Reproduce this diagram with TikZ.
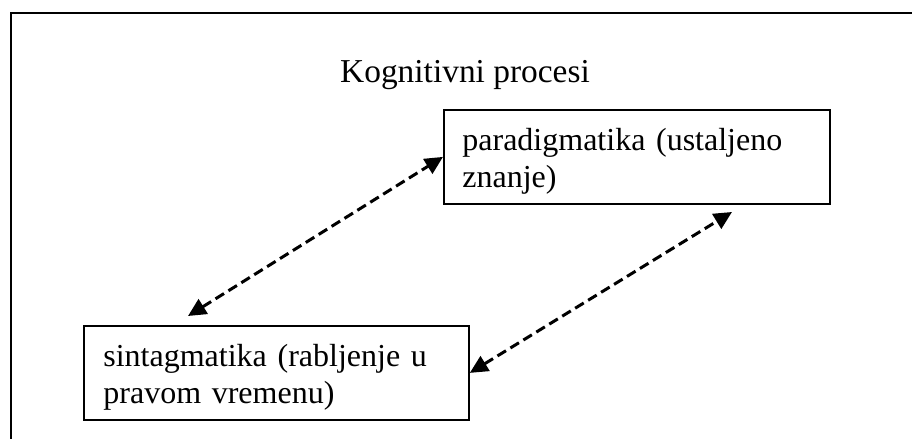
\documentclass[tikz,border=0pt]{standalone}
\usepackage{fontspec}
\setmainfont{Liberation Serif}
\usetikzlibrary{arrows.meta}
\begin{document}
\begin{tikzpicture}[x=0.5pt,y=-0.5pt,
  frame/.style={line width=1pt},
  box/.style={draw, line width=0.9pt, inner sep=0pt},
  boxtext/.style={anchor=base west, inner sep=0pt, text width=185pt, align=left,
    font=\fontsize{16pt}{18.5pt}\selectfont},
  heading/.style={anchor=base, inner sep=0pt, font=\fontsize{16.7pt}{19pt}\selectfont},
  link/.style={dash pattern=on 5pt off 2.6pt, line width=1.5pt,
    {Triangle[length=9pt,width=8.5pt]}-{Triangle[length=9pt,width=8.5pt]}}
]
\useasboundingbox (0,0) rectangle (912,439);
% outer frame, running past the right and bottom edges
\begin{scope}
  \clip (0,0) rectangle (912,439);
  \draw[frame] (10.5,13) rectangle (930,460);
\end{scope}

\node[heading] (title) at (465,83) {Kognitivni procesi};

% the two boxes
\node[box, anchor=north west, minimum width=193pt, minimum height=47pt] (para) at (443,109) {};
\node[boxtext] (paratext) at (462,150) {paradigmatika (ustaljeno\\znanje)};

\node[box, anchor=north west, minimum width=192.5pt, minimum height=47pt] (sint) at (83,325) {};
\node[boxtext] (sinttext) at (103,366) {sintagmatika (rabljenje u\\pravom vremenu)};

% free ends of the two links
\coordinate (sintop) at (188,316);
\coordinate (parabot) at (732,212);

\draw[link] (sintop) -- (para.west);
\draw[link] (sint.east) -- (parabot);
\end{tikzpicture}
\end{document}
